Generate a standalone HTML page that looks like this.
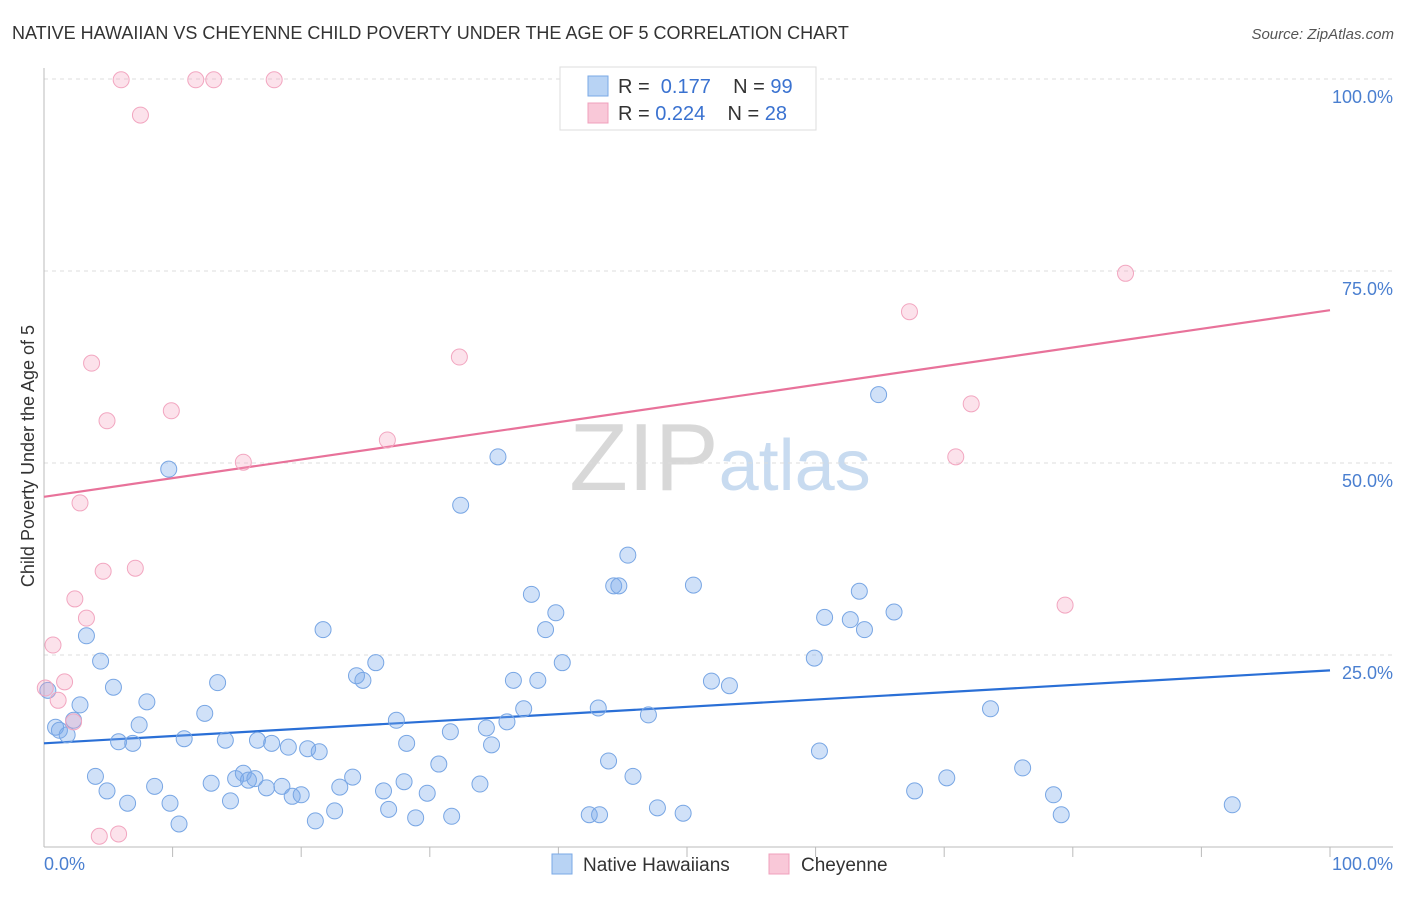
<!DOCTYPE html>
<html><head><meta charset="utf-8">
<style>
body{margin:0;background:#fff;font-family:"Liberation Sans",sans-serif;}
svg text{font-family:"Liberation Sans",sans-serif;}
</style></head>
<body>
<svg id="chart" width="1406" height="892" xmlns="http://www.w3.org/2000/svg">
<text x="12" y="39" font-size="18" fill="#333">NATIVE HAWAIIAN VS CHEYENNE CHILD POVERTY UNDER THE AGE OF 5 CORRELATION CHART</text>
<text x="1394" y="39" font-size="15" fill="#555" text-anchor="end" font-style="italic">Source: ZipAtlas.com</text>
<text x="720" y="490" font-size="96" fill="#ddd" text-anchor="middle" font-family="Liberation Serif"><tspan fill="#d8d8d8">ZIP</tspan><tspan fill="#c8dbf0" font-family="Liberation Sans" font-size="72">atlas</tspan></text>
<g id="grid"></g>
<g id="axes"></g>
<g id="lines"></g>
<g id="points"></g>
<text transform="translate(34,456) rotate(-90)" font-size="18" fill="#333" text-anchor="middle">Child Poverty Under the Age of 5</text>
<text x="44" y="870" font-size="18" fill="#4a7fd0">0.0%</text>
<text x="1393" y="870" font-size="18" fill="#4a7fd0" text-anchor="end">100.0%</text>
<g>
<rect x="560" y="67" width="256" height="63" fill="#fff" stroke="#ddd"/>
<rect x="588" y="76" width="20" height="20" fill="#b8d3f4" stroke="#7aa8e6"/>
<rect x="588" y="103" width="20" height="20" fill="#f9c8d8" stroke="#f0a0bc"/>
<text x="618" y="93" font-size="20" fill="#333">R = <tspan fill="#3a72d0">&#160;0.177</tspan>&#160;&#160;&#160; N = <tspan fill="#3a72d0">99</tspan></text>
<text x="618" y="120" font-size="20" fill="#333">R = <tspan fill="#3a72d0">0.224</tspan>&#160;&#160;&#160; N = <tspan fill="#3a72d0">28</tspan></text>
</g>
<g>
<rect x="552" y="854" width="20" height="20" fill="#b8d3f4" stroke="#7aa8e6"/>
<text x="583" y="871" font-size="19" fill="#333">Native Hawaiians</text>
<rect x="769" y="854" width="20" height="20" fill="#f9c8d8" stroke="#f0a0bc"/>
<text x="801" y="871" font-size="19" fill="#333">Cheyenne</text>
</g>
</svg>
<script>
const yTicks=[25,50,75,100];
const yTickLabels=["25.0%","50.0%","75.0%","100.0%"];
const blueX=[0.3,0.9,1.2,1.8,2.3,2.8,3.3,4.0,4.4,4.9,5.4,5.8,6.5,6.9,7.4,8.0,8.6,9.7,9.8,10.5,10.9,12.5,13.0,13.5,14.1,14.5,14.9,15.5,15.9,16.4,16.6,17.3,17.7,18.5,19.0,19.3,20.0,20.5,21.1,21.4,21.7,22.6,23.0,24.0,24.3,24.8,25.8,26.4,26.8,27.4,28.0,28.2,28.9,29.8,30.7,31.6,31.7,32.4,33.9,34.4,34.8,35.3,36.0,36.5,37.3,37.9,38.4,39.0,39.8,40.3,42.4,43.1,43.2,43.9,44.3,44.7,45.4,45.8,47.0,47.7,49.7,50.5,51.9,53.3,59.9,60.3,60.7,62.7,63.4,63.8,64.9,66.1,67.7,70.2,73.6,76.1,78.5,79.1,92.4];
const blueY=[20.4,15.6,15.2,14.6,16.5,18.5,27.5,9.2,24.2,7.3,20.8,13.7,5.7,13.5,15.9,18.9,7.9,49.2,5.7,3.0,14.1,17.4,8.3,21.4,13.9,6.0,8.9,9.6,8.7,8.9,13.9,7.7,13.5,7.9,13.0,6.6,6.8,12.8,3.4,12.4,28.3,4.7,7.8,9.1,22.3,21.7,24.0,7.3,4.9,16.5,8.5,13.5,3.8,7.0,10.8,15.0,4.0,44.5,8.2,15.5,13.3,50.8,16.3,21.7,18.0,32.9,21.7,28.3,30.5,24.0,4.2,18.1,4.2,11.2,34.0,34.0,38.0,9.2,17.2,5.1,4.4,34.1,21.6,21.0,24.6,12.5,29.9,29.6,33.3,28.3,58.9,30.6,7.3,9.0,18.0,10.3,6.8,4.2,5.5];
const pinkX=[0.1,0.7,1.1,1.6,2.3,2.4,2.8,3.3,3.7,4.3,4.6,4.9,5.8,6.0,7.1,7.5,9.9,11.8,13.2,15.5,17.9,26.7,32.3,67.3,70.9,72.1,79.4,84.1];
const pinkY=[20.7,26.3,19.1,21.5,16.3,32.3,44.8,29.8,63.0,1.4,35.9,55.5,1.7,99.9,36.3,95.3,56.8,99.9,99.9,50.1,99.9,53.0,63.8,69.7,50.8,57.7,31.5,74.7];
const blueTrend=[13.5,23.0];
const pinkTrend=[45.6,69.9];
const NS="http://www.w3.org/2000/svg";
const sx=v=>44+v*12.86, sy=v=>847-v*7.68;
function mk(tag,attrs,parent){const e=document.createElementNS(NS,tag);for(const k in attrs)e.setAttribute(k,attrs[k]);document.getElementById(parent).appendChild(e);return e;}
yTicks.forEach((t,i)=>{
 const g=mk('line',{x1:44,x2:1393,y1:sy(t),y2:sy(t),stroke:'#ddd','stroke-dasharray':'4,4'},'grid');
 
 
 const l=mk('text',{x:1393,y:sy(t)+24,'font-size':18,fill:'#4a7fd0','text-anchor':'end'},'grid');
 l.textContent=yTickLabels[i];
 
 
});
const ax=mk('line',{x1:44,x2:1393,y1:847,y2:847,stroke:'#bbb'},'axes');


const ay=mk('line',{x1:44,x2:44,y1:68,y2:847,stroke:'#bbb'},'axes');


for(let i=1;i<=10;i++){const t=mk('line',{x1:sx(i*10),x2:sx(i*10),y1:847,y2:857,stroke:'#bbb'},'axes');
 
 }
function pts(xs,ys,fill,stroke,name){xs.forEach((x,i)=>{const c=mk('circle',{cx:sx(x),cy:sy(ys[i]),r:8,fill:fill,stroke:stroke,'stroke-width':1},'points');
 
 });}
pts(blueX,blueY,'rgba(120,170,235,0.35)','#78a6e4','native-hawaiian-point');
pts(pinkX,pinkY,'rgba(245,160,190,0.3)','#f2a6c0','cheyenne-point');
const bl=mk('line',{x1:sx(0),y1:sy(blueTrend[0]),x2:sx(100),y2:sy(blueTrend[1]),stroke:'#2a6fd6','stroke-width':2.2},'lines');


const pl=mk('line',{x1:sx(0),y1:sy(pinkTrend[0]),x2:sx(100),y2:sy(pinkTrend[1]),stroke:'#e8729a','stroke-width':2.2},'lines');


</script>
</body></html>
